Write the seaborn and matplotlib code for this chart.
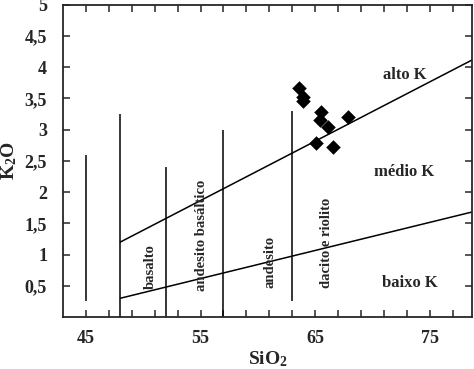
import matplotlib.pyplot as plt
import numpy as np
import pandas as pd
import seaborn as sns

# samples
sio2 = [63.55, 63.98, 63.90, 65.5, 65.4, 66.1, 67.9, 65.1, 66.6]
k2o = [3.66, 3.53, 3.46, 3.29, 3.16, 3.04, 3.21, 2.79, 2.72]

# field boundaries (Peccerillo & Taylor)
div_x = [45, 48, 52, 57, 63]
div_ymin = [0.25, 0.0, 0.0, 0.0, 0.25]
div_ymax = [2.6, 3.25, 2.4, 3.0, 3.3]
high_x = [48, 80]
high_y = [1.2, 4.24]
low_x = [48, 80]
low_y = [0.3, 1.74]

rock_names = ['basalto', 'andesito basáltico', 'andesito', 'dacito e riolito']
rock_x = [50.65, 55.05, 61.1, 66.0]
rock_y = [0.80, 1.31, 0.88, 1.18]
series_names = ['alto K', 'médio K', 'baixo K']
series_x = [72.8, 72.8, 73.3]
series_y = [3.87, 2.32, 0.54]

sns.set_style('ticks')
plt.rcParams['font.family'] = ['Liberation Serif', 'DejaVu Serif']
plt.rcParams['font.weight'] = 'bold'
plt.rcParams['mathtext.fontset'] = 'custom'
plt.rcParams['mathtext.rm'] = 'Liberation Serif:bold'
plt.rcParams['mathtext.default'] = 'rm'

fig = plt.figure(figsize=(4.74, 3.69), dpi=100)
ax = fig.add_axes([0.133, 0.141, 0.863, 0.846])

ax.vlines(div_x, div_ymin, div_ymax, color='black', lw=1.1)
sns.lineplot(x=high_x, y=high_y, ax=ax, color='black', lw=1.1)
sns.lineplot(x=low_x, y=low_y, ax=ax, color='black', lw=1.1)

df = pd.DataFrame({'SiO2': sio2, 'K2O': k2o})
sns.scatterplot(data=df, x='SiO2', y='K2O', ax=ax, marker='D', s=55,
                color='black', edgecolor='black', linewidth=0, zorder=5)

for name, x, y in zip(rock_names, rock_x, rock_y):
    ax.text(x, y, name, rotation=90, ha='center', va='center', fontsize=10.5,
            fontweight='bold')
for name, x, y in zip(series_names, series_x, series_y):
    ax.text(x, y, name, ha='center', va='center', fontsize=12, fontweight='bold')

ax.set_xlim(43, 78.7)
ax.set_ylim(0, 5)
ax.set_xticks([45, 55, 65, 75])
ax.set_xticks(np.arange(47, 79, 2), minor=True)
ax.set_yticks([0.5, 1, 1.5, 2, 2.5, 3, 3.5, 4, 4.5, 5])
ax.set_yticklabels(['0,5', '1', '1,5', '2', '2,5', '3', '3,5', '4', '4,5', '5'])
ax.tick_params(which='both', direction='in', top=True, right=True, length=5,
               width=1.1, labelsize=13)
ax.tick_params(axis='x', pad=9.5)
ax.tick_params(axis='y', pad=11.5)
for lab in ax.get_xticklabels() + ax.get_yticklabels():
    lab.set_fontweight('bold')
for sp in ax.spines.values():
    sp.set_linewidth(1.3)

ax.set_xlabel('SiO$_2$', fontsize=14, fontweight='bold', labelpad=1.5)
ax.set_ylabel('K$_2$O', fontsize=14, fontweight='bold', labelpad=4)

fig.savefig('out.png', dpi=100)
